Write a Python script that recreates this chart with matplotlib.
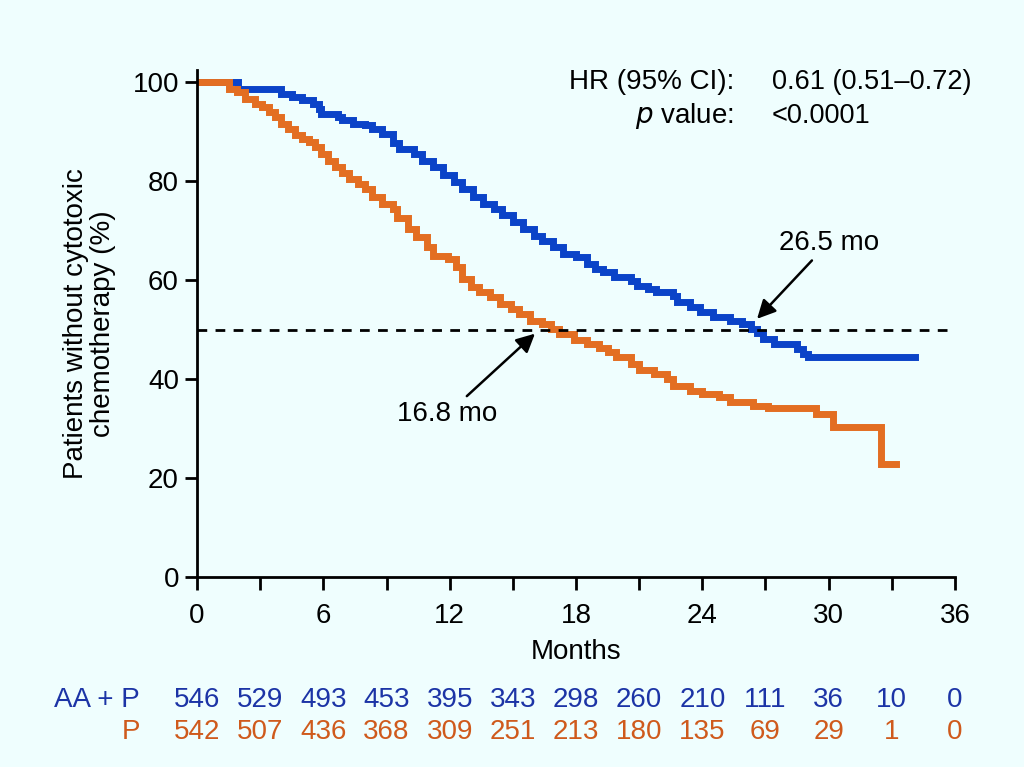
"""Kaplan-Meier style chart: time to cytotoxic chemotherapy, AA + P vs P."""
import matplotlib
matplotlib.use('Agg')
import matplotlib.pyplot as plt

# --- data ------------------------------------------------------------------
aap_t = [0, 1.95, 4.0, 4.5, 5.0, 5.5, 5.8, 5.9, 6.7, 6.9, 7.4, 8.0, 8.3, 8.8,
         9.3, 9.6, 10.3, 10.7, 11.2, 11.7, 12.2, 12.6, 13.1, 13.6, 14.1, 14.5,
         15.0, 15.5, 16.0, 16.4, 16.9, 17.4, 18.0, 18.5, 18.9, 19.3, 19.8,
         20.6, 20.9, 21.4, 21.8, 22.6, 22.8, 23.4, 23.9, 24.5, 25.3, 25.9,
         26.3, 26.6, 26.9, 27.4, 28.5, 28.8, 29.0, 34.1]
aap_s = [100, 98.7, 97.7, 97.1, 96.4, 95.7, 94.7, 93.7, 93.0, 92.3, 91.6, 91.3,
         90.6, 89.6, 87.8, 86.5, 85.6, 84.2, 82.9, 81.2, 79.8, 78.5, 76.8,
         75.5, 74.4, 73.1, 71.7, 70.4, 69.0, 68.0, 66.7, 65.3, 64.6, 63.3,
         62.3, 61.6, 60.6, 59.9, 58.9, 58.2, 57.6, 56.9, 55.5, 54.5, 53.5,
         52.5, 51.8, 51.2, 50.2, 49.3, 48.1, 47.1, 46.1, 45.1, 44.5, 44.5]

p_t = [0, 1.5, 1.9, 2.3, 2.75, 3.1, 3.4, 3.7, 4.0, 4.3, 4.65, 5.0, 5.3, 5.6,
       5.9, 6.2, 6.55, 6.9, 7.2, 7.65, 8.0, 8.3, 8.8, 9.3, 9.5, 10.0, 10.4,
       10.9, 11.2, 11.9, 12.3, 12.6, 13.0, 13.4, 13.9, 14.4, 14.9, 15.3,
       15.8, 16.4, 16.8, 17.2, 17.9, 18.5, 19.1, 19.5, 19.9, 20.6, 21.0,
       21.7, 22.3, 22.6, 23.4, 24.0, 24.8, 25.3, 26.4, 27.1, 29.4, 30.2,
       32.5, 33.2]
p_s = [100, 98.7, 98.0, 96.7, 95.7, 95.0, 94.0, 93.0, 91.6, 90.6, 89.3, 88.6,
       87.9, 86.9, 85.6, 84.2, 82.9, 81.6, 80.5, 79.5, 78.5, 76.8, 75.5, 74.5,
       72.6, 70.4, 68.7, 66.7, 65.0, 64.3, 62.6, 60.3, 58.6, 57.6, 56.6,
       55.2, 54.2, 53.2, 51.8, 51.2, 50.2, 49.1, 48.0, 47.2, 46.2, 45.4,
       44.4, 43.1, 41.9, 41.0, 40.0, 38.7, 37.7, 37.0, 36.3, 35.3, 34.6,
       34.1, 32.9, 30.4, 22.9, 22.9]

risk_months = [0, 3, 6, 9, 12, 15, 18, 21, 24, 27, 30, 33, 36]
risk_aap = [546, 529, 493, 453, 395, 343, 298, 260, 210, 111, 36, 10, 0]
risk_p = [542, 507, 436, 368, 309, 251, 213, 180, 135, 69, 29, 1, 0]

median_aap = 26.5
median_p = 16.8

BG = '#effefe'
BLUE = '#0b43c8'
ORANGE = '#e36e22'
BLUE_TXT = '#1c34a6'
ORANGE_TXT = '#cf5a1c'
FS = 20

plt.rcParams['font.family'] = ['Liberation Sans', 'DejaVu Sans']

fig = plt.figure(figsize=(10.24, 7.67), dpi=100, facecolor=BG)
ax = fig.add_axes([0.1924, 0.2477, 0.7402, 0.661])
ax.set_facecolor(BG)

ax.plot(aap_t, aap_s, drawstyle='steps-post', color=BLUE, lw=5,
        solid_joinstyle='miter')
ax.plot(p_t, p_s, drawstyle='steps-post', color=ORANGE, lw=5,
        solid_joinstyle='miter')
ax.plot([0, 36], [50, 50], color='black', lw=2, ls=(0, (3.5, 3)))

ax.set_xlim(0, 36)
ax.set_ylim(0, 102.5)
ax.set_xticks(range(0, 37, 6))
ax.set_xticks(range(3, 36, 6), minor=True)
ax.set_yticks(range(0, 101, 20))
for side in ('top', 'right'):
    ax.spines[side].set_visible(False)
for side in ('left', 'bottom'):
    ax.spines[side].set_linewidth(2)
ax.tick_params(which='both', direction='out', length=9, width=2,
               labelsize=FS, pad=4)
ax.tick_params(axis='x', which='both', pad=10)
ax.set_xlabel('Months', fontsize=FS, labelpad=7)
ax.set_ylabel('Patients without cytotoxic\nchemotherapy (%)', fontsize=FS,
              labelpad=12, linespacing=1.05)

# median annotations
arrow = dict(arrowstyle='-|>', color='black', lw=1.8, mutation_scale=28,
             shrinkA=2, shrinkB=0)
ax.annotate(f'{median_aap} mo', xy=(median_aap + 0.1, 52.2), xytext=(30.0, 67.6),
            ha='center', va='center', fontsize=FS, arrowprops=arrow)
ax.annotate(f'{median_p} mo', xy=(median_p - 0.75, 49.2), xytext=(11.9, 33.0),
            ha='center', va='center', fontsize=FS, arrowprops=arrow)

# HR box
ax.text(25.5, 100, 'HR (95% CI):', ha='right', va='center', fontsize=FS)
ax.text(27.3, 100, '0.61 (0.51\u20130.72)', ha='left', va='center',
        fontsize=19.5)
ax.text(25.5, 93.3, '$\\it{p}$ value:', ha='right', va='center', fontsize=FS)
ax.text(27.3, 93.3, '<0.0001', ha='left', va='center', fontsize=19.5)

# number at risk
trans = ax.get_xaxis_transform()
for m, a, p in zip(risk_months, risk_aap, risk_p):
    ax.text(m, -0.243, str(a), transform=trans, ha='center', va='center',
            fontsize=FS, color=BLUE_TXT, clip_on=False)
    ax.text(m, -0.306, str(p), transform=trans, ha='center', va='center',
            fontsize=FS, color=ORANGE_TXT, clip_on=False)
ax.text(-2.7, -0.243, 'AA + P', transform=trans, ha='right', va='center',
        fontsize=FS, color=BLUE_TXT, clip_on=False)
ax.text(-2.7, -0.306, 'P', transform=trans, ha='right', va='center',
        fontsize=FS, color=ORANGE_TXT, clip_on=False)

fig.savefig('out.png', dpi=100, facecolor=BG)
